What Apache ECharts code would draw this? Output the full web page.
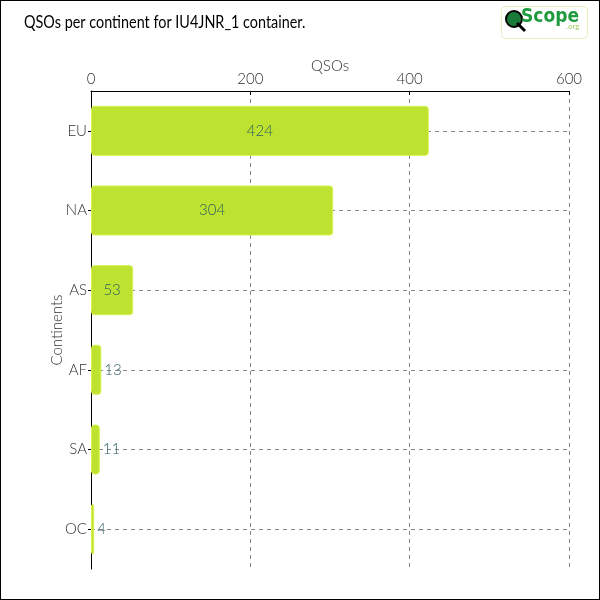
<!DOCTYPE html>
<html><head><meta charset="utf-8">
<script src="https://cdn.jsdelivr.net/npm/echarts@6/dist/echarts.min.js"></script>
<style>html,body{margin:0;padding:0;background:#fff}#c{width:600px;height:600px;box-sizing:border-box;border:1px solid #000}</style>
</head><body><div id="c"></div>
<script>
const categories = ['EU','NA','AS','AF','SA','OC'];
const values = [424, 304, 53, 13, 11, 4];
const xTicks = [0, 200, 400, 600];
const titleText = 'QSOs per continent for IU4JNR_1 container.';
const FONT = 'Lato';
const chart = echarts.init(document.getElementById('c'));
chart.setOption({
  animation:false,
  grid:{left:90,right:30,top:90,bottom:30,containLabel:false},
  xAxis:{type:'value',position:'top',min:xTicks[0],max:xTicks[xTicks.length-1],interval:200,
    name:'QSOs',nameLocation:'middle',nameGap:17,nameMoveOverlap:false,nameTextStyle:{fontFamily:FONT,fontWeight:300,fontSize:15,color:'#333'},
    axisLine:{show:true,lineStyle:{color:'#000',width:1}},
    axisTick:{show:true,inside:true,length:4,lineStyle:{color:'#000'}},
    axisLabel:{fontFamily:FONT,fontWeight:300,fontSize:15,color:'#333',margin:4},
    splitLine:{show:true,lineStyle:{color:'#888',type:[4,4]}}},
  yAxis:{type:'category',inverse:true,data:categories,
    name:'Continents',nameLocation:'middle',nameGap:26,nameMoveOverlap:false,nameRotate:90,nameTextStyle:{fontFamily:FONT,fontWeight:300,fontSize:15,color:'#333'},
    axisLine:{show:true,lineStyle:{color:'#000',width:1}},
    axisTick:{show:true,alignWithLabel:true,length:3,lineStyle:{color:'#000'}},
    axisLabel:{fontFamily:FONT,fontWeight:300,fontSize:15,color:'#333',margin:4},
    splitLine:{show:true,alignWithLabel:true,lineStyle:{color:'#888',type:[4,4]}}},
  series:[{type:'bar',barWidth:50,
    data:values.map(v=>({value:v,label:{position:v>=30?'inside':'right',distance:3}})),
    itemStyle:{color:'#bde22f',borderColor:'#d6f24e',borderWidth:1,borderRadius:3},
    label:{show:true,fontFamily:FONT,fontWeight:300,fontSize:15,color:'#2f5f60'}}],
  graphic:[
    {type:'text',x:23,y:12,scaleX:0.8,style:{text:titleText,fontFamily:FONT,fontSize:18,fill:'#000'}},
    {type:'rect',left:500,top:5,shape:{width:86,height:32,r:4},style:{fill:'#fff',stroke:'#e6efc0',lineWidth:1}},
    {type:'circle',left:504,top:9,shape:{r:8},style:{fill:'#1a7a3a',stroke:'#000',lineWidth:2}},
    {type:'line',shape:{x1:516,y1:22,x2:524,y2:30},style:{stroke:'#000',lineWidth:3}},
    {type:'text',left:520,top:7,style:{text:'Scope',fontFamily:'DejaVu Sans Condensed',fontWeight:'bold',fontSize:19,fill:'#1f9a3f'}},
    {type:'text',left:565,top:21,style:{text:'.org',fontFamily:FONT,fontSize:8,fill:'#9fd060'}}
  ]
});
</script></body></html>
